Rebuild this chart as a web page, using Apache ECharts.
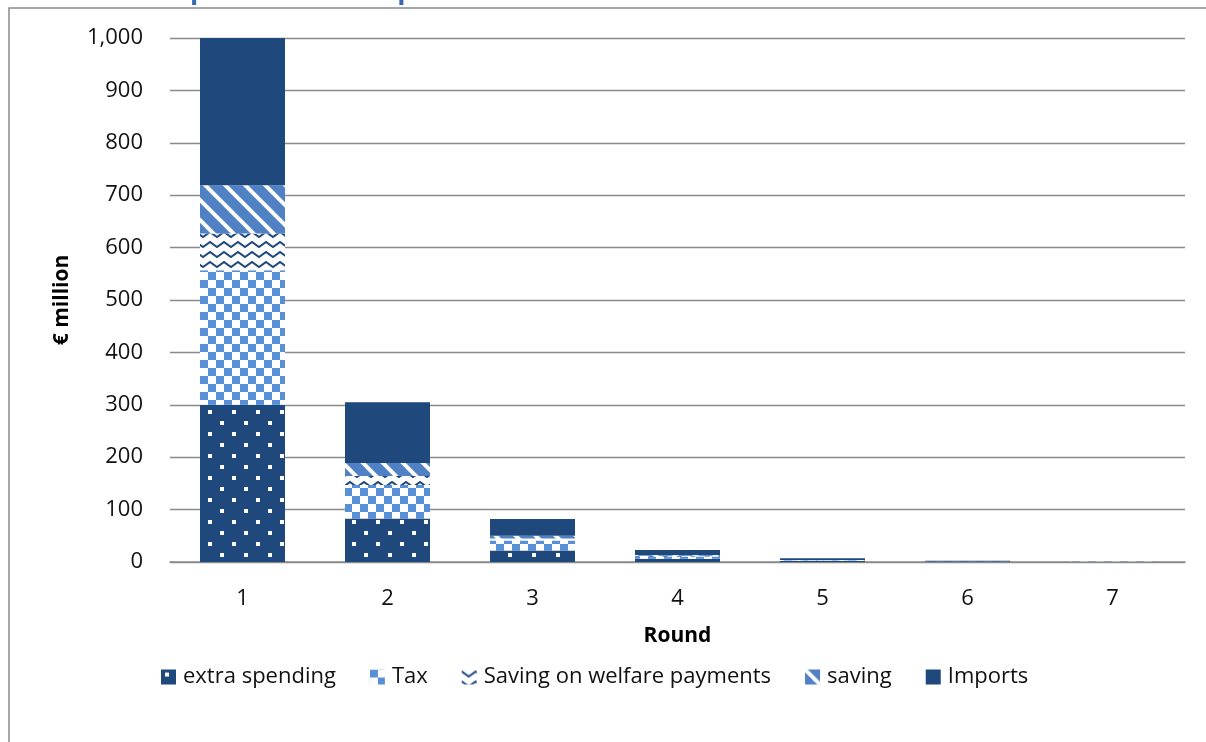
<!DOCTYPE html>
<html>
<head>
<meta charset="utf-8">
<style>
  html, body { margin: 0; padding: 0; background: #ffffff; }
  #chart { width: 1206px; height: 742px; }
</style>
<script src="https://cdn.jsdelivr.net/npm/echarts@6/dist/echarts.min.js"></script>
</head>
<body>
<div id="chart"></div>
<script>
// Rounds of the spending chain and the split of each round (€ million)
const rounds = ['1', '2', '3', '4', '5', '6', '7'];
const extraSpending = [300, 83, 22, 6, 1.8, 0.5, 0.15];
const tax = [257, 64, 19, 4.5, 1.3, 0.4, 0.1];
const welfareSaving = [70, 17, 4, 1.2, 0.35, 0.1, 0.03];
const saving = [92, 25, 5, 1.8, 0.5, 0.15, 0.04];
const imports = [281, 116, 32, 9.5, 3, 1, 0.25];

const yTicks = { min: 0, max: 1000, interval: 100 };

const NAVY = '#1F497D';
const MID = '#4F81C4';
const LIGHT = '#5890D8';

// Small repeating tiles used as bar fills
function tile(w, h, draw) {
  const c = document.createElement('canvas');
  c.width = w; c.height = h;
  const ctx = c.getContext('2d');
  draw(ctx, w, h);
  return { image: c, repeat: 'repeat' };
}

const fillDots = tile(24, 22, (ctx, w, h) => {
  ctx.fillStyle = NAVY; ctx.fillRect(0, 0, w, h);
  ctx.fillStyle = '#ffffff';
  ctx.fillRect(4, 3, 4, 4);
  ctx.fillRect(16, 14, 4, 4);
});

const fillChecker = tile(16, 16, (ctx, w, h) => {
  ctx.fillStyle = '#ffffff'; ctx.fillRect(0, 0, w, h);
  ctx.fillStyle = LIGHT;
  ctx.fillRect(0, 0, 8, 8);
  ctx.fillRect(8, 8, 8, 8);
});

const fillZigzag = tile(14, 10, (ctx, w, h) => {
  ctx.fillStyle = '#ffffff'; ctx.fillRect(0, 0, w, h);
  ctx.strokeStyle = NAVY; ctx.lineWidth = 2;
  ctx.beginPath();
  ctx.moveTo(-3.5, 4.5); ctx.lineTo(0, 2); ctx.lineTo(7, 7); ctx.lineTo(14, 2); ctx.lineTo(17.5, 4.5);
  ctx.stroke();
});

const fillStripes = tile(20, 20, (ctx, w, h) => {
  ctx.fillStyle = MID; ctx.fillRect(0, 0, w, h);
  ctx.strokeStyle = '#ffffff'; ctx.lineWidth = 4;
  for (let c = -20; c <= 20; c += 20) {
    ctx.beginPath();
    ctx.moveTo(-5, -5 + c); ctx.lineTo(25, 25 + c);
    ctx.stroke();
  }
});

const FONT = '"Open Sans", "DejaVu Sans", sans-serif';

function stack(name, data, fill) {
  return {
    name: name,
    type: 'bar',
    stack: 'total',
    barWidth: 85,
    data: data,
    itemStyle: { color: fill },
    emphasis: { disabled: true }
  };
}

const chart = echarts.init(document.getElementById('chart'), null, { renderer: 'canvas' });

chart.setOption({
  animation: false,
  backgroundColor: '#ffffff',
  graphic: [
    {
      type: 'rect',
      shape: { x: 9, y: 8, width: 1400, height: 900 },
      style: { fill: 'none', stroke: '#8a8a8a', lineWidth: 1.5 },
      silent: true
    },
    {
      type: 'text',
      left: 4,
      top: -22,
      style: {
        text: 'Chart 1: Example of the multiplier effects',
        font: 'bold 27px ' + FONT,
        fill: '#3A6AAE'
      },
      silent: true
    }
  ],
  grid: { left: 170, right: 21, top: 38, bottom: 180 },
  legend: {
    data: ['extra spending', 'Tax', 'Saving on welfare payments', 'saving', 'Imports'],
    left: 156,
    top: 661,
    itemWidth: 15,
    itemHeight: 15,
    itemGap: 34,
    icon: 'rect',
    textStyle: { fontFamily: FONT, fontSize: 22, color: '#111', padding: [0, 0, 0, 2] }
  },
  xAxis: {
    type: 'category',
    data: rounds,
    name: 'Round',
    nameLocation: 'middle',
    nameGap: 64,
    nameTextStyle: { fontFamily: FONT, fontSize: 21, fontWeight: 'bold', color: '#000' },
    axisLine: { lineStyle: { color: '#8a8a8a', width: 1.5 } },
    axisTick: { show: false },
    axisLabel: { fontFamily: FONT, fontSize: 22, color: '#111', margin: 26 }
  },
  yAxis: {
    type: 'value',
    min: yTicks.min,
    max: yTicks.max,
    interval: yTicks.interval,
    name: '€ million',
    nameLocation: 'middle',
    nameGap: 97,
    nameRotate: 90,
    nameTextStyle: { fontFamily: FONT, fontSize: 21, fontWeight: 'bold', color: '#000' },
    axisLine: { show: false },
    axisTick: { show: false },
    splitLine: { lineStyle: { color: '#8a8a8a', width: 1.3 } },
    axisLabel: {
      fontFamily: FONT, fontSize: 22, color: '#111', margin: 27,
      formatter: v => v.toLocaleString('en-US')
    }
  },
  series: [
    stack('extra spending', extraSpending, fillDots),
    stack('Tax', tax, fillChecker),
    stack('Saving on welfare payments', welfareSaving, fillZigzag),
    stack('saving', saving, fillStripes),
    stack('Imports', imports, NAVY)
  ]
});
</script>
</body>
</html>
